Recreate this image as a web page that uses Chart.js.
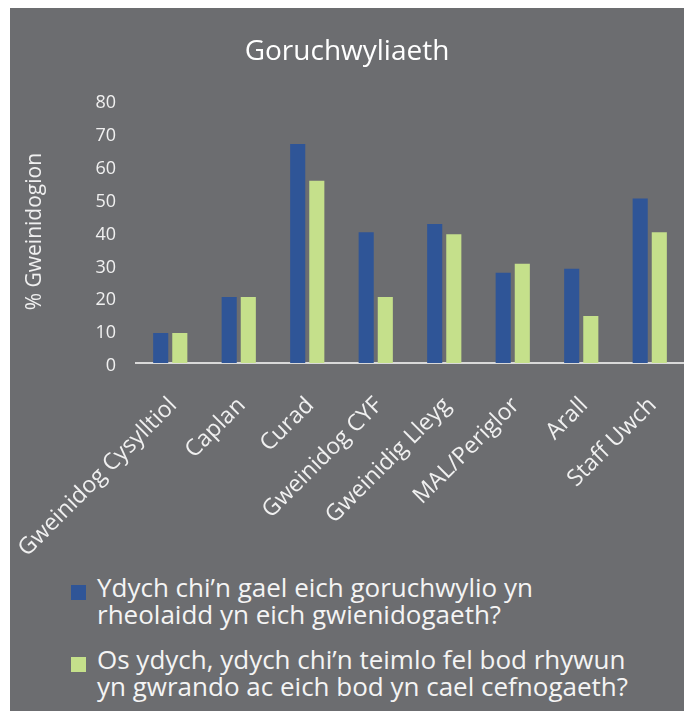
<!DOCTYPE html>
<html>
<head>
<meta charset="utf-8">
<script src="https://cdn.jsdelivr.net/npm/chart.js@4.4.1/dist/chart.umd.min.js"></script>
<style>
  html, body { margin: 0; padding: 0; background: #ffffff; }
  body { width: 689px; height: 711px; position: relative; overflow: hidden; font-family: "Open Sans", sans-serif; }
  #panel { position: absolute; left: 10px; top: 8px; width: 674px; height: 703px; background: #6c6d70; }
  #chart { position: absolute; left: 0; top: 0; }
  #legend { position: absolute; left: 61px; top: 566px; color: #f4f4f4; font-size: 26px; line-height: 27px; }
  .item { display: flex; align-items: flex-start; margin-bottom: 18px; }
  .swatch { width: 15px; height: 15px; margin-top: 11px; margin-right: 11px; flex: none; }
</style>
</head>
<body>
<div id="panel">
  <canvas id="chart" width="674" height="560"></canvas>
  <div id="legend"></div>
</div>
<script>
const categories = ['Gweinidog Cysylltiol', 'Caplan', 'Curad', 'Gweinidog CYF', 'Gweinidig Lleyg', 'MAL/Periglor', 'Arall', 'Staff Uwch'];
const supervised = [9.1, 20.1, 66.7, 39.8, 42.3, 27.5, 28.7, 50.1];
const supported = [9.1, 20.1, 55.5, 20.1, 39.2, 30.2, 14.3, 39.8];
const seriesNames = [
    ['Ydych chi’n gael eich goruchwylio yn', 'rheolaidd yn eich gwienidogaeth?'],
    ['Os ydych, ydych chi’n teimlo fel bod rhywun', 'yn gwrando ac eich bod yn cael cefnogaeth?']
];
const seriesColors = ['#2f5597', '#c5e08b'];
const yTicks = [0, 10, 20, 30, 40, 50, 60, 70, 80];

const textColor = '#f0f0f0';
const font = '"Open Sans", sans-serif';

// legend drawn as html so the two-line labels wrap like the original
const htmlLegend = {
    id: 'htmlLegend',
    afterUpdate(chart) {
        const box = document.getElementById('legend');
        box.innerHTML = '';
        chart.data.datasets.forEach((ds, i) => {
            const item = document.createElement('div');
            item.className = 'item';
            const sw = document.createElement('span');
            sw.className = 'swatch';
            sw.style.background = ds.backgroundColor;
            const txt = document.createElement('span');
            txt.innerHTML = seriesNames[i].join('<br>');
            item.appendChild(sw);
            item.appendChild(txt);
            box.appendChild(item);
        });
    }
};

new Chart(document.getElementById('chart'), {
    type: 'bar',
    data: {
        labels: categories,
        datasets: [
            { label: seriesNames[0].join(' '), data: supervised, backgroundColor: seriesColors[0] },
            { label: seriesNames[1].join(' '), data: supported, backgroundColor: seriesColors[1] }
        ]
    },
    options: {
        responsive: false,
        animation: false,
        devicePixelRatio: 1,
        categoryPercentage: 0.558,
        barPercentage: 0.79,
        layout: { padding: { left: 0, right: 0, top: 0, bottom: 0 } },
        plugins: {
            legend: { display: false },
            tooltip: { enabled: false },
            title: {
                display: true,
                text: 'Goruchwyliaeth',
                color: '#ffffff',
                font: { family: font, size: 28, weight: 'normal' },
                padding: { top: 27, bottom: 31.7 }
            }
        },
        scales: {
            x: {
                grid: { display: false, drawTicks: false },
                border: { display: true, color: '#d9d9d9', width: 2 },
                ticks: {
                    color: textColor,
                    font: { family: font, size: 23 },
                    minRotation: 45,
                    maxRotation: 45,
                    autoSkip: false,
                    padding: 29,
                    labelOffset: 3
                },
                afterFit: (s) => {
                    s.height = 205;
                    // rotated labels may hang past the plot edge, don't let them squeeze it
                    s.paddingLeft = 0;
                    s.paddingRight = 0;
                }
            },
            y: {
                min: 0,
                max: 80,
                afterBuildTicks: (s) => { s.ticks = yTicks.map(v => ({ value: v })); },
                grid: { display: false, drawTicks: false },
                border: { display: false },
                ticks: {
                    color: textColor,
                    font: { family: font, size: 18 },
                    padding: 20,
                    labelOffset: 3
                },
                title: {
                    display: true,
                    text: '% Gweinidogion',
                    color: textColor,
                    font: { family: font, size: 21 },
                    padding: { top: 12, bottom: 0 }
                },
                afterFit: (s) => { s.width = 126; }
            }
        }
    },
    plugins: [htmlLegend]
});
</script>
</body>
</html>
